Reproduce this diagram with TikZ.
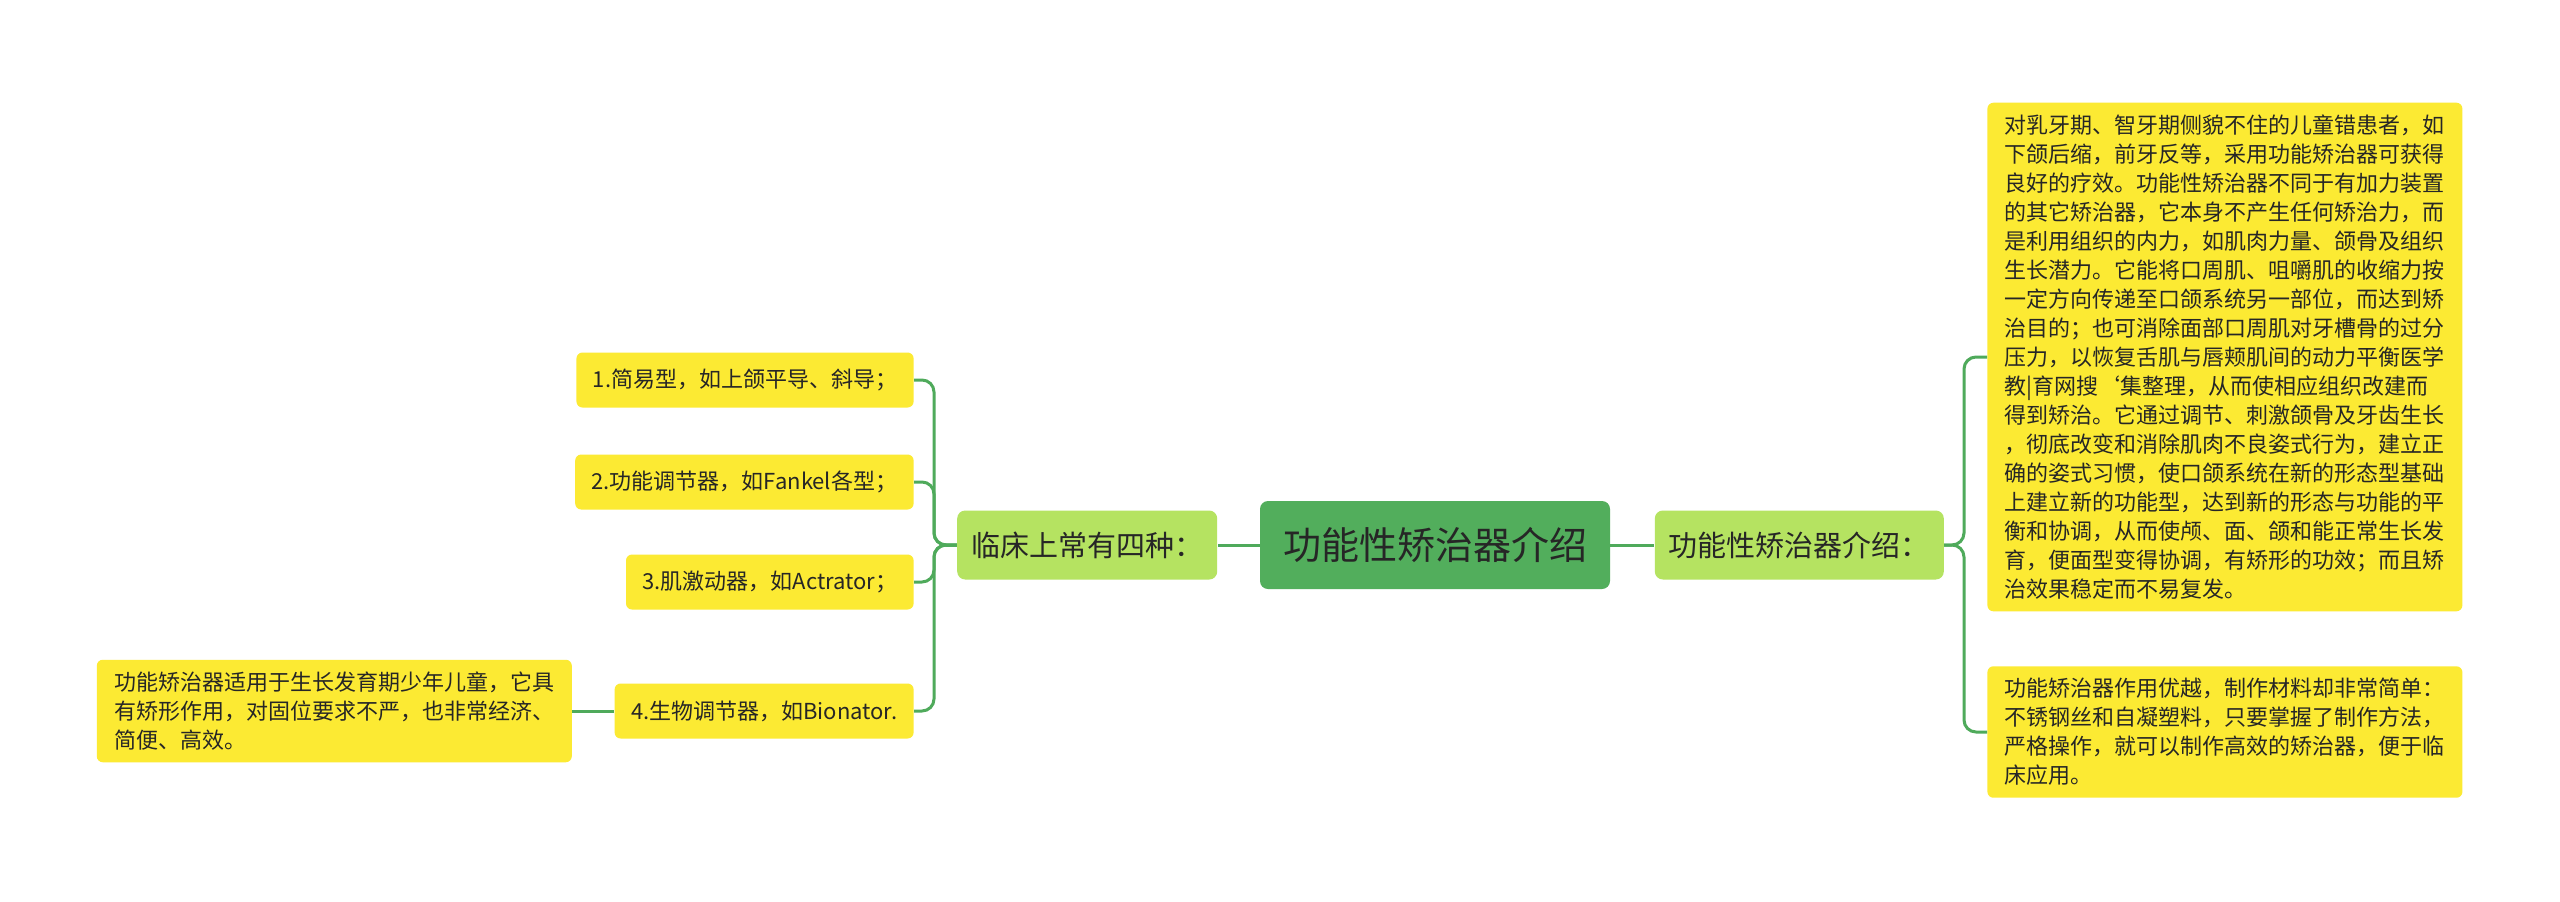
\documentclass[tikz,border=0pt]{standalone}
\usepackage{fontspec}
\setmainfont{Noto Sans CJK SC}
\usepackage{xcolor}
\usepackage{tikz}
\usetikzlibrary{positioning,calc}
\definecolor{rootgreen}{HTML}{52AE5C}
\definecolor{subgreen}{HTML}{B5E361}
\definecolor{leafyellow}{HTML}{FCEA33}
\definecolor{linegreen}{HTML}{4FAA5B}
\definecolor{txtdark}{HTML}{262626}
\tikzset{
  mm_root/.style={
    rectangle, rounded corners=4pt, fill=rootgreen, text=txtdark,
    minimum width=175pt, minimum height=44pt, inner sep=0pt,
    font=\fontsize{19}{22}\selectfont
  },
  mm_main/.style={
    rectangle, rounded corners=4pt, fill=subgreen, text=txtdark,
    minimum height=34.5pt, inner xsep=7pt, inner ysep=0pt,
    font=\fontsize{14.5}{17}\selectfont
  },
  mm_leaf/.style={
    rectangle, rounded corners=3pt, fill=leafyellow, text=txtdark,
    minimum height=27.5pt, inner xsep=8.2pt, inner ysep=0pt,
    font=\fontsize{11}{14.5}\selectfont
  },
  mm_note/.style={
    rectangle, rounded corners=3pt, fill=leafyellow, text=txtdark,
    text width=220pt, align=left, inner xsep=8.75pt, inner ysep=6pt,
    font=\fontsize{11}{14.5}\selectfont
  },
  mm_line/.style={draw=linegreen, line width=1.5pt, rounded corners=6pt},
}
\begin{document}
\begin{tikzpicture}[x=1pt, y=-1pt]

\path[fill=white, use as bounding box] (0,0) rectangle (1280,450.5);

\node[mm_root] (root) at (717.5,272.5) {功能性矫治器介绍};
\node[mm_main, left=21pt of root]  (types) {临床上常有四种：};
\node[mm_main, right=22pt of root] (intro) {功能性矫治器介绍：};

% left branch: four types
\node[mm_leaf, anchor=east] (type1) at (457,190)   {1.简易型，如上颌平导、斜导；};
\node[mm_leaf, anchor=east] (type2) at (457,241)   {2.功能调节器，如Fankel各型；};
\node[mm_leaf, anchor=east] (type3) at (457,291)   {3.肌激动器，如Actrator；};
\node[mm_leaf, anchor=east] (type4) at (457,355.5) {4.生物调节器，如Bionator.};
\node[mm_note, left=21pt of type4] (usage)
  {功能矫治器适用于生长发育期少年儿童，它具\\
   有矫形作用，对固位要求不严，也非常经济、\\
   简便、高效。};

% right branch: notes
\node[mm_note, anchor=west] (detail) at (993.5,178.5)
  {对乳牙期、智牙期侧貌不住的儿童错患者，如\\
   下颌后缩，前牙反等，采用功能矫治器可获得\\
   良好的疗效。功能性矫治器不同于有加力装置\\
   的其它矫治器，它本身不产生任何矫治力，而\\
   是利用组织的内力，如肌肉力量、颌骨及组织\\
   生长潜力。它能将口周肌、咀嚼肌的收缩力按\\
   一定方向传递至口颌系统另一部位，而达到矫\\
   治目的；也可消除面部口周肌对牙槽骨的过分\\
   压力，以恢复舌肌与唇颊肌间的动力平衡医学\\
   教|育网搜‘集整理，从而使相应组织改建而\\
   得到矫治。它通过调节、刺激颌骨及牙齿生长\\
   ，彻底改变和消除肌肉不良姿式行为，建立正\\
   确的姿式习惯，使口颌系统在新的形态型基础\\
   上建立新的功能型，达到新的形态与功能的平\\
   衡和协调，从而使颅、面、颌和能正常生长发\\
   育，便面型变得协调，有矫形的功效；而且矫\\
   治效果稳定而不易复发。};
\node[mm_note, anchor=west] (material) at (993.5,366)
  {功能矫治器作用优越，制作材料却非常简单：\\
   不锈钢丝和自凝塑料，只要掌握了制作方法，\\
   严格操作，就可以制作高效的矫治器，便于临\\
   床应用。};

\coordinate (ltrunk) at (467,272.5);
\coordinate (rtrunk) at (982,272.5);

% connectors
\draw[mm_line] (root) -- (types);
\draw[mm_line] (root) -- (intro);
\draw[mm_line] (types.west) -- (ltrunk) |- (type1.east);
\draw[mm_line] (types.west) -- (ltrunk) |- (type2.east);
\draw[mm_line] (types.west) -- (ltrunk) |- (type3.east);
\draw[mm_line] (types.west) -- (ltrunk) |- (type4.east);
\draw[mm_line] (type4) -- (usage);
\draw[mm_line] (intro.east) -- (rtrunk) |- (detail.west);
\draw[mm_line] (intro.east) -- (rtrunk) |- (material.west);

\end{tikzpicture}
\end{document}
